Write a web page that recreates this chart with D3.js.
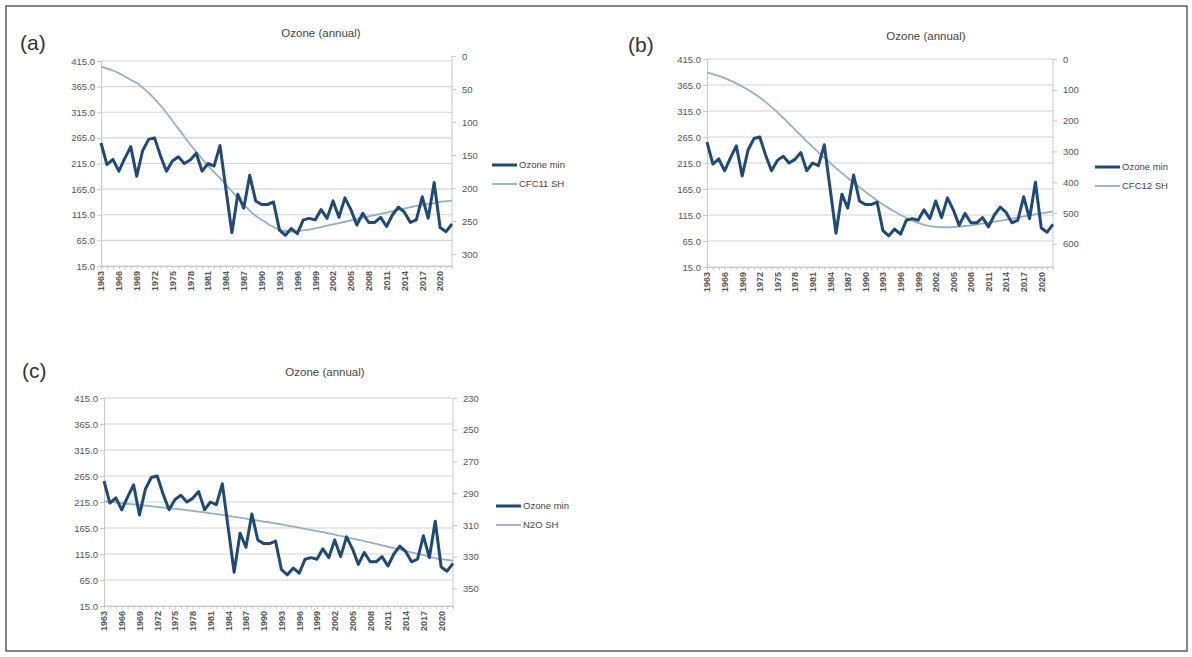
<!DOCTYPE html>
<html><head><meta charset="utf-8">
<script src="https://cdn.jsdelivr.net/npm/d3@7"></script>
<style>
body{margin:0;background:#fff;}
svg{display:block;font-family:"Liberation Sans",Arial,sans-serif;}
</style></head>
<body><svg id="chart" width="1192" height="657"></svg>
<script>
const years = d3.range(1963, 2023);
const yearLabels = ["1963","1966","1969","1972","1975","1978","1981","1984","1987","1990","1993","1996","1999","2002","2005","2008","2011","2014","2017","2020"];
const ozoneMin = [255,213,223,200,225,248,190,240,262,265,230,200,220,228,215,222,235,200,215,210,250,165,80,155,128,192,142,135,135,140,85,75,88,78,105,108,105,125,108,142,110,148,125,95,118,100,100,110,92,115,130,120,100,105,150,108,178,90,82,97];
const cfc11SH = [16,19,22,26,31,36,41,48,56,65,75,86,98,110,122,134,145,156,166,176,185,195,205,215,225,234,242,248,254,259,263,265,266,265,264,263,261,259,257,255,253,251,249,247,245,243,241,239,237,235,233,231,229,227,226,224,223,221,220,219];
const cfc12SH = [44,49,55,62,70,79,89,100,112,125,140,156,173,191,210,229,248,267,285,303,320,337,354,370,386,401,416,431,445,459,472,484,495,506,516,525,532,538,542,545,546,546,545,544,542,540,537,534,531,528,525,522,518,515,511,508,504,501,498,495];
const n2oSH = [295,295.4,295.8,296.2,296.6,297,297.4,297.8,298.2,298.6,299,299.4,299.8,300.2,300.6,301.1,301.6,302.1,302.6,303.1,303.6,304.2,304.8,305.4,306,306.6,307.2,307.8,308.4,309,309.6,310.3,311,311.7,312.4,313.1,313.8,314.5,315.3,316.1,316.9,317.7,318.5,319.3,320.1,321,321.9,322.8,323.7,324.6,325.5,326.4,327.3,328.2,329,330,330.8,331.5,332,332.5];
const leftTicks = [15,65,115,165,215,265,315,365,415];
const rightTicksA = [0,50,100,150,200,250,300];
const rightTicksB = [0,100,200,300,400,500,600];
const rightTicksC = [230,250,270,290,310,330,350];

const svg = d3.select("#chart");
svg.append("rect").attr("x",6).attr("y",6).attr("width",1181).attr("height",645)
  .attr("fill","none").attr("stroke","#333").attr("stroke-width",1.2);

const panels = [
  {label:"(a)", lx:20, ly:50, left:101, right:452, top:61, bottom:266, series:cfc11SH, name:"CFC11 SH",
   rDomain:[7.6,318], rTicks:rightTicksA, titleX:321, titleY:37, legX:492, legY:165},
  {label:"(b)", lx:628, ly:52, left:707, right:1053, top:59, bottom:267, series:cfc12SH, name:"CFC12 SH",
   rDomain:[0,675], rTicks:rightTicksB, titleX:926, titleY:40, legX:1095, legY:167},
  {label:"(c)", lx:22, ly:378, left:104, right:453, top:398, bottom:606, series:n2oSH, name:"N2O SH",
   rDomain:[230,361], rTicks:rightTicksC, titleX:325, titleY:376, legX:496, legY:506}
];

panels.forEach(p => {
  const g = svg.append("g");
  const x = d3.scaleLinear().domain([1963,2022]).range([p.left,p.right]);
  const yL = d3.scaleLinear().domain([15,415]).range([p.bottom,p.top]);
  const yR = d3.scaleLinear().domain(p.rDomain).range([p.top,p.bottom]);

  g.append("text").attr("x",p.lx).attr("y",p.ly).attr("font-size",21).attr("fill","#333").text(p.label);
  g.append("text").attr("x",p.titleX).attr("y",p.titleY).attr("text-anchor","middle")
    .attr("font-size",11.5).attr("fill","#444").text("Ozone (annual)");

  // gridlines
  g.append("g").selectAll("line").data(leftTicks).join("line")
    .attr("x1",p.left).attr("x2",p.right).attr("y1",d=>yL(d)).attr("y2",d=>yL(d))
    .attr("stroke","#d4d4d4").attr("stroke-width",1.2);

  // left axis
  const la = g.append("g").attr("transform",`translate(${p.left},0)`)
    .call(d3.axisLeft(yL).tickValues(leftTicks).tickFormat(d3.format(".1f")).tickSize(4).tickPadding(2));
  la.selectAll("path,line").attr("stroke","#c8c8c8");
  la.selectAll("text").attr("font-size",9.5).attr("fill","#555").attr("font-family","Liberation Sans, Arial, sans-serif");

  // right axis
  const ra = g.append("g").attr("transform",`translate(${p.right},0)`)
    .call(d3.axisRight(yR).tickValues(p.rTicks).tickSize(4).tickPadding(6));
  ra.select("path").attr("d",`M0,${Math.min(yR(p.rTicks[0]),p.top)}V${p.bottom}`);
  ra.selectAll("path,line").attr("stroke","#c8c8c8");
  ra.selectAll("text").attr("font-size",9.5).attr("fill","#555").attr("font-family","Liberation Sans, Arial, sans-serif");

  // bottom axis
  const ba = g.append("g").attr("transform",`translate(0,${p.bottom})`)
    .call(d3.axisBottom(x).tickValues(years).tickSize(3).tickFormat(d => yearLabels.includes(String(d)) ? String(d) : ""));
  ba.selectAll("path,line").attr("stroke","#c8c8c8");
  ba.selectAll("text").attr("font-size",9).attr("fill","#555").attr("font-weight","bold")
    .attr("font-family","Liberation Sans, Arial, sans-serif")
    .attr("transform","rotate(-90)").attr("text-anchor","end").attr("dy","0.32em").attr("x",-5).attr("y",0);

  // series lines
  g.append("path").datum(p.series)
    .attr("d", d3.line().x((d,i)=>x(years[i])).y(d=>yR(d)).curve(d3.curveMonotoneX))
    .attr("fill","none").attr("stroke","#92afcc").attr("stroke-width",1.8);
  g.append("path").datum(ozoneMin)
    .attr("d", d3.line().x((d,i)=>x(years[i])).y(d=>yL(d)))
    .attr("fill","none").attr("stroke","#1d4a78").attr("stroke-width",3).attr("stroke-linejoin","round");

  // legend
  const lg = g.append("g");
  lg.append("line").attr("x1",p.legX).attr("x2",p.legX+25).attr("y1",p.legY).attr("y2",p.legY)
    .attr("stroke","#1d4a78").attr("stroke-width",3);
  lg.append("text").attr("x",p.legX+27).attr("y",p.legY).attr("dy","0.35em")
    .attr("font-size",9.5).attr("fill","#444").text("Ozone min");
  lg.append("line").attr("x1",p.legX).attr("x2",p.legX+25).attr("y1",p.legY+19).attr("y2",p.legY+19)
    .attr("stroke","#92afcc").attr("stroke-width",1.8);
  lg.append("text").attr("x",p.legX+27).attr("y",p.legY+19).attr("dy","0.35em")
    .attr("font-size",9.5).attr("fill","#444").text(p.name);
});
</script></body></html>
